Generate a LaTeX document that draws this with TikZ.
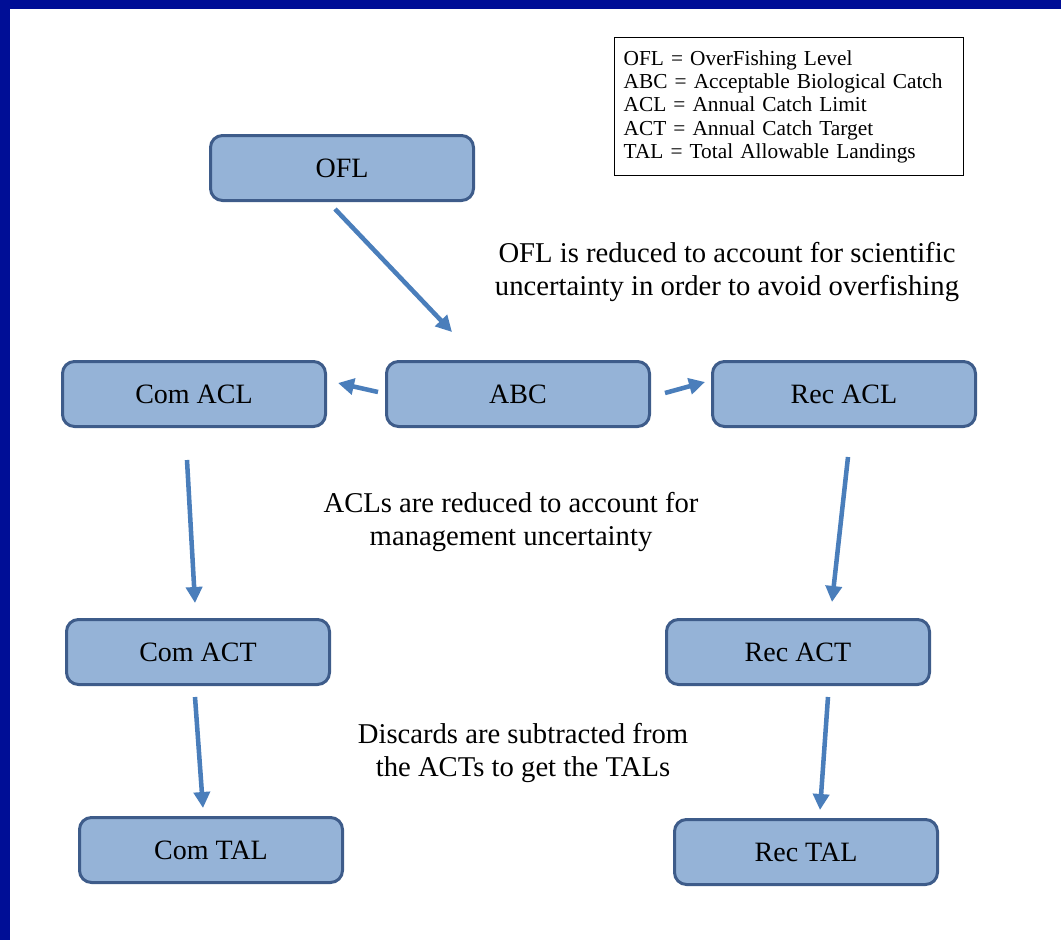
\documentclass[tikz,border=0pt]{standalone}
\usepackage{fontspec}
\setmainfont{Liberation Serif}
\usetikzlibrary{arrows.meta}

\definecolor{slidenavy}{RGB}{0,14,150}
\definecolor{boxfill}{RGB}{149,179,215}
\definecolor{boxline}{RGB}{62,92,138}
\definecolor{flowblue}{RGB}{74,126,187}

\tikzset{every picture/.style={line width=0.75pt}}
\tikzset{
  catchbox/.style={draw=boxline, fill=boxfill, line width=2.25pt, rounded corners=9pt,
    minimum width=197.25pt, minimum height=48.75pt, inner sep=0pt,
    font=\fontsize{21}{24}\selectfont},
  flow/.style={draw=flowblue, line width=3.4pt, -{Triangle[length=12pt,width=12pt]}},
  note/.style={align=center, inner sep=0pt, font=\fontsize{21.5}{24.75}\selectfont},
}

\begin{document}
\begin{tikzpicture}[x=0.75pt,y=0.75pt,yscale=-1,xscale=1]
\useasboundingbox (0,0) rectangle (1061,940);

%Slide frame
\fill[slidenavy] (0,0) rectangle (1061,9);
\fill[slidenavy] (0,0) rectangle (10,940);

%Legend
\node[draw, line width=1pt, anchor=north west, text width=248pt, inner xsep=6.75pt,
  minimum height=103.5pt, align=left, font=\fontsize{16}{17.5}\selectfont] (legend) at (614,37)
  {OFL = OverFishing Level\\
   ABC = Acceptable Biological Catch\\
   ACL = Annual Catch Limit\\
   ACT = Annual Catch Target\\
   TAL = Total Allowable Landings};

%Rounded Rect
\node[catchbox] (ofl) at (342,168) {OFL};
%Rounded Rect
\node[catchbox] (comacl) at (194,394) {Com ACL};
%Rounded Rect
\node[catchbox] (abc) at (518,394) {ABC};
%Rounded Rect
\node[catchbox] (recacl) at (844,394) {Rec ACL};
%Rounded Rect
\node[catchbox] (comact) at (198,652) {Com ACT};
%Rounded Rect
\node[catchbox] (recact) at (798,652) {Rec ACT};
%Rounded Rect
\node[catchbox] (comtal) at (211,850) {Com TAL};
%Rounded Rect
\node[catchbox] (rectal) at (806,852) {Rec TAL};

%Straight Lines
\draw[flow] (ofl.center) ++(-7,41) -- ++(117,123);
%Straight Lines
\draw[flow] (abc.center) ++(-140,-2) -- ++(-40,-9);
%Straight Lines
\draw[flow] (abc.center) ++(147,-1) -- ++(40,-11);
%Straight Lines
\draw[flow] (comacl.center) ++(-7,66) -- ++(8,143);
%Straight Lines
\draw[flow] (recacl.center) ++(4,63) -- ++(-16,145);
%Straight Lines
\draw[flow] (comact.center) ++(-3,45) -- ++(8,111);
%Straight Lines
\draw[flow] (recact.center) ++(30,45) -- ++(-8,113);

% Text Node
\node[note] (scinote) at (727,272) {OFL is reduced to account for scientific\\uncertainty in order to avoid overfishing};
% Text Node
\node[note] (mgmtnote) at (511,522) {ACLs are reduced to account for\\management uncertainty};
% Text Node
\node[note] (discnote) at (523,753) {Discards are subtracted from\\the ACTs to get the TALs};

\end{tikzpicture}
\end{document}
